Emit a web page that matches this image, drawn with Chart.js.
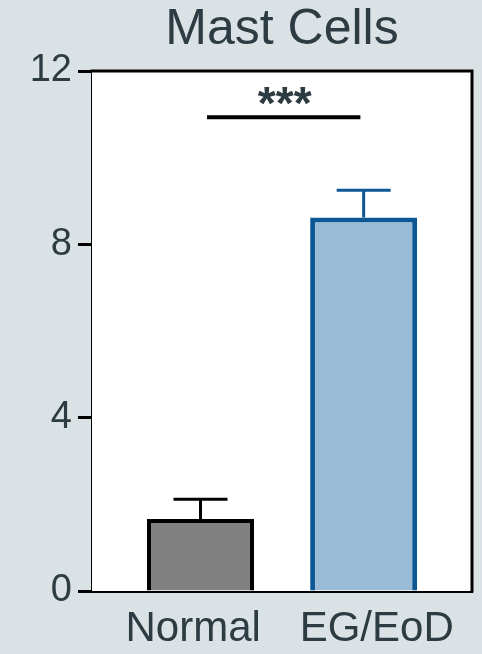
<!DOCTYPE html>
<html>
<head>
<meta charset="utf-8">
<script src="https://cdn.jsdelivr.net/npm/chart.js@4/dist/chart.umd.min.js"></script>
<style>
  html, body { margin: 0; padding: 0; background: #dbe2e5; }
  #wrap { width: 482px; height: 654px; }
</style>
</head>
<body>
<div id="wrap"><canvas id="c" width="482" height="654"></canvas></div>
<script>
// ---- data ----
const titleText = 'Mast Cells';
const categories = ['Normal', 'EG/EoD'];
const means = [1.66, 8.62];
const sems = [0.46, 0.63];
const yTicks = [0, 4, 8, 12];
const sigFrom = [0.04];
const sigTo = [0.98];
const sigLevel = [10.93];
const sigLabel = ['***'];

const fillColors = ['#808080', '#9abbd5'];
const borderColors = ['#000000', '#0d5795'];
const textColor = '#2d3b42';
const fontFamily = '"Liberation Sans", Arial, Helvetica, sans-serif';

const plotBg = {
  id: 'plotBg',
  beforeDatasetsDraw(chart) {
    const { ctx, chartArea: a } = chart;
    ctx.save();
    ctx.fillStyle = '#ffffff';
    ctx.fillRect(a.left, a.top, a.right - a.left, a.bottom - a.top);
    ctx.restore();
  }
};

const frame = {
  id: 'frame',
  afterDraw(chart) {
    const { ctx, chartArea: a } = chart;
    ctx.save();
    ctx.strokeStyle = '#000';
    ctx.lineWidth = 3;
    ctx.lineCap = 'square';
    ctx.beginPath();
    ctx.moveTo(a.left, a.top);
    ctx.lineTo(a.right, a.top);
    ctx.lineTo(a.right, a.bottom);
    ctx.stroke();
    ctx.restore();
  }
};

const errorBars = {
  id: 'errorBars',
  afterDatasetsDraw(chart) {
    const { ctx, scales: { x, y } } = chart;
    ctx.save();
    categories.forEach((c, i) => {
      const px = x.getPixelForValue(i);
      const base = y.getPixelForValue(means[i]);
      const top = y.getPixelForValue(means[i] + sems[i]);
      ctx.strokeStyle = borderColors[i];
      ctx.lineWidth = 3;
      ctx.beginPath();
      ctx.moveTo(px, base);
      ctx.lineTo(px, top);
      ctx.moveTo(px - 27, top);
      ctx.lineTo(px + 27, top);
      ctx.stroke();
    });
    ctx.restore();
  }
};

const significance = {
  id: 'significance',
  afterDraw(chart) {
    const { ctx, scales: { x, y } } = chart;
    ctx.save();
    sigLevel.forEach((lv, i) => {
      const x1 = x.getPixelForValue(sigFrom[i]);
      const x2 = x.getPixelForValue(sigTo[i]);
      const py = y.getPixelForValue(lv);
      ctx.strokeStyle = '#000';
      ctx.lineWidth = 4;
      ctx.beginPath();
      ctx.moveTo(x1, py);
      ctx.lineTo(x2, py);
      ctx.stroke();
      ctx.fillStyle = textColor;
      ctx.font = 'bold 46px ' + fontFamily;
      ctx.textAlign = 'center';
      ctx.textBaseline = 'alphabetic';
      const m = ctx.measureText(sigLabel[i]);
      const bottom = py - 12.5;
      ctx.fillText(sigLabel[i], (x1 + x2) / 2 + 1, bottom - m.actualBoundingBoxDescent);
    });
    ctx.restore();
  }
};

new Chart(document.getElementById('c'), {
  type: 'bar',
  data: {
    datasets: [{
      data: means.map((v, i) => ({ x: i, y: v })),
      backgroundColor: fillColors,
      borderColor: borderColors,
      borderWidth: [4, 5],
      borderSkipped: 'start',
      barPercentage: 0.656,
      categoryPercentage: 1
    }]
  },
  options: {
    responsive: false,
    animation: false,
    devicePixelRatio: 1,
    layout: { padding: { left: 0, right: 10, top: 0, bottom: 0 } },
    plugins: {
      legend: { display: false },
      tooltip: { enabled: false },
      title: {
        display: true,
        text: titleText,
        fullSize: false,
        color: textColor,
        font: { family: fontFamily, size: 50, weight: 'normal', lineHeight: 1.2 },
        padding: { top: 0, bottom: 11 }
      }
    },
    scales: {
      x: {
        type: 'linear',
        min: -0.665,
        max: 1.664,
        offset: false,
        grid: { display: false, drawTicks: false, drawOnChartArea: false },
        border: { display: true, color: '#000', width: 3 },
        afterBuildTicks: (s) => { s.ticks = categories.map((c, i) => ({ value: i + [-0.045, 0.08][i] })); },
        afterFit: (s) => { s.height = 63; },
        ticks: {
          autoSkip: false,
          maxRotation: 0,
          padding: 13,
          color: textColor,
          font: { family: fontFamily, size: 42 },
          callback: (v, idx) => categories[idx]
        }
      },
      y: {
        min: 0,
        max: 12,
        afterBuildTicks: (s) => { s.ticks = yTicks.map(v => ({ value: v })); },
        afterFit: (s) => { s.width = 92; },
        grid: { display: true, drawOnChartArea: false, drawTicks: true, tickLength: 14, tickWidth: 3, tickColor: '#000' },
        border: { display: true, color: '#000', width: 3 },
        ticks: {
          padding: 6,
          color: textColor,
          font: { family: fontFamily, size: 38 }
        }
      }
    }
  },
  plugins: [plotBg, errorBars, significance, frame]
});
</script>
</body>
</html>
